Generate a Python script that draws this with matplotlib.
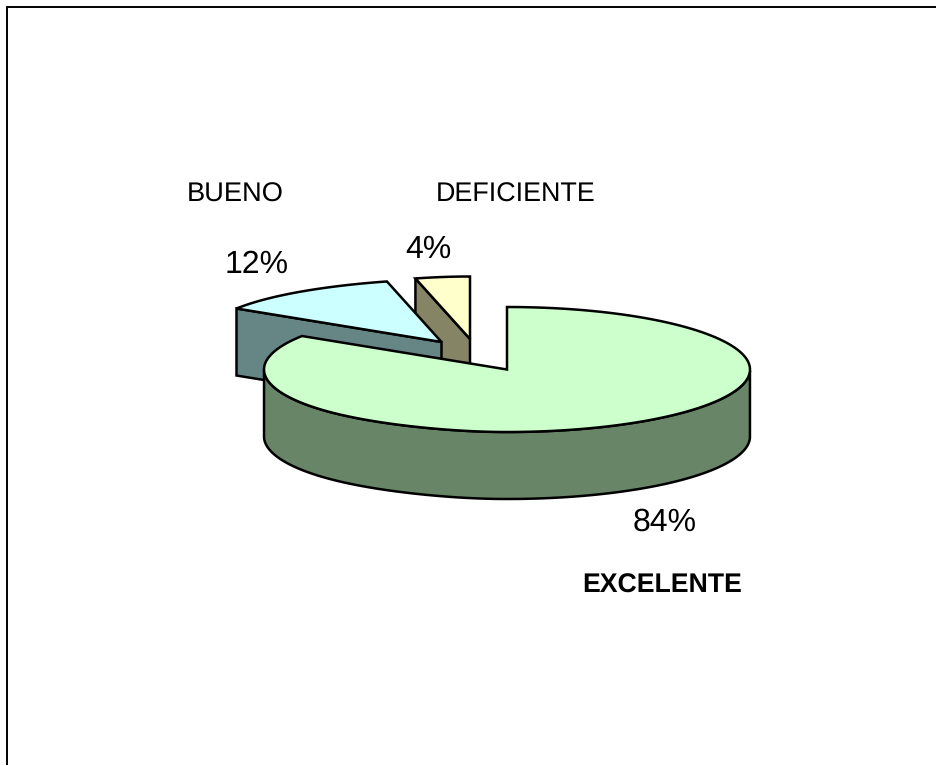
import numpy as np
import matplotlib
matplotlib.use("Agg")
import matplotlib.pyplot as plt
from matplotlib.patches import Polygon

plt.rcParams['font.family'] = ['Liberation Sans', 'DejaVu Sans']
plt.rcParams['text.hinting'] = 'none'

categories = ['EXCELENTE', 'BUENO', 'DEFICIENTE']
shares = [84, 12, 4]
percent_labels = ['84%', '12%', '4%']

top_colors = ['#CCFFCC', '#CCFFFF', '#FFFFCC']
wall_colors = ['#688568', '#668585', '#858566']

# pie centre of each slice in pixels, the two small ones are pulled out
centers = [(507, 369.5), (441.5, 342), (470, 339)]
rx, ry = 243, 62.5
depth = 67
line_w = 1.8


def rim(cx, cy, t):
    # points on the tilted disc, t is clockwise from 12 o'clock
    t = np.asarray(t, dtype=float)
    # back left part of the disc looks a bit narrower
    squeeze = 1 - 0.125 * np.where(t > np.pi, np.cos(t) ** 8, 0)
    return np.column_stack([cx + rx * np.sin(t) * squeeze, cy - ry * np.cos(t)])


def draw_slice(cx, cy, start, end, top, wall, z):
    t = np.linspace(start, end, 200)
    edge = rim(cx, cy, t)
    apex = np.array([[cx, cy]])
    drop = np.array([0, depth])

    # cut face on the starting side of the slice
    first = edge[:1]
    face = np.vstack([first, apex, apex + drop, first + drop])
    ax.add_patch(Polygon(face, closed=True, fc=wall, ec='black', lw=line_w, zorder=z))

    # outer wall, only the front half of the rim shows
    front = t[(t > np.pi / 2) & (t < 3 * np.pi / 2)]
    if len(front):
        rim_pts = rim(cx, cy, front)
        outer = np.vstack([rim_pts, (rim_pts + drop)[::-1]])
        ax.add_patch(Polygon(outer, closed=True, fc=wall, ec='black', lw=line_w, zorder=z))

    ax.add_patch(Polygon(np.vstack([apex, edge]), closed=True, fc=top, ec='black',
                         lw=line_w, joinstyle='miter', zorder=z + 0.5))


fig = plt.figure(figsize=(9.36, 7.66), dpi=100)
ax = fig.add_axes([0, 0, 1, 1])
ax.set_xlim(0, 936)
ax.set_ylim(766, 0)
ax.axis('off')

# outer frame has only the left and top sides
ax.plot([7, 7, 936], [765, 6.5, 6.5], color='black', lw=1.4, solid_joinstyle='miter',
        solid_capstyle='butt')

ends = np.cumsum(shares) / np.sum(shares) * 2 * np.pi
starts = np.concatenate([[0], ends[:-1]])
for i in [2, 1, 0]:
    z = 3 - i
    draw_slice(centers[i][0], centers[i][1], starts[i], ends[i], top_colors[i], wall_colors[i], z)

ax.text(665, 522, percent_labels[0], fontsize=23, ha='center', va='center')
ax.text(256.5, 265, percent_labels[1], fontsize=23, ha='center', va='center')
ax.text(428.5, 250, percent_labels[2], fontsize=23, ha='center', va='center')

ax.text(662, 586, categories[0], fontsize=19.2, fontweight='bold', ha='center', va='center')
ax.text(235.5, 194.5, categories[1], fontsize=19.6, ha='center', va='center')
ax.text(515.5, 194.5, categories[2], fontsize=19.4, ha='center', va='center')

fig.savefig('out.png', dpi=100)
